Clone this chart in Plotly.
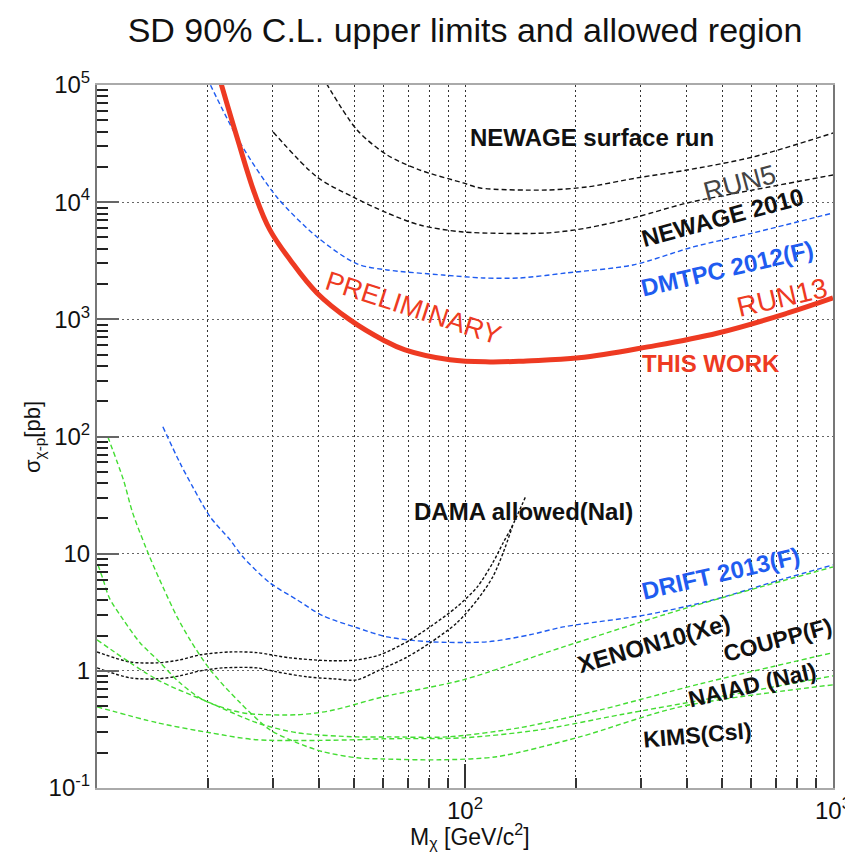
import plotly.graph_objects as go

# ---------------- data (mass in GeV/c^2, cross section in pb) ----------------
this_work_m = [21.6, 24.0, 26.9, 29.5, 33.5, 39.6, 48.7, 59.9, 68.7, 91.0, 117, 147, 204, 314, 487, 755, 1000]
this_work_s = [1.10e5, 36000, 11520, 5800, 3210, 1680, 989, 667, 548, 451, 433, 442, 469, 582, 765, 1134, 1523]

dmtpc_m = [19.9, 24.5, 30.8, 39.6, 50.9, 61.4, 87.1, 112, 141, 189, 286, 417, 606, 1000]
dmtpc_s = [1.15e5, 32000, 11070, 5050, 2970, 2640, 2390, 2255, 2255, 2490, 2910, 4150, 5460, 8090]

newage2010_m = [30.1, 39.6, 49.6, 61.4, 75.4, 98.8, 167, 215, 293, 401, 606, 1000]
newage2010_s = [39700, 16400, 11070, 8090, 6380, 5570, 5460, 6030, 7480, 9840, 12700, 17060]

surface_m = [40.9, 50.9, 61.4, 75.4, 98.8, 110, 167, 215, 293, 401, 606, 1000]
surface_s = [1.19e5, 41300, 25300, 18800, 14600, 13200, 12700, 13500, 16100, 18800, 24300, 38900]

drift_m = [15.1, 16.8, 18.2, 20.3, 23.0, 24.9, 29.5, 35.0, 41.1, 50.9, 61.4, 80.3, 115, 150, 185, 312, 472, 718, 1000]
drift_s = [121, 59.6, 37.2, 20.6, 13.1, 9.40, 5.64, 4.03, 2.95, 2.33, 1.95, 1.77, 1.77, 2.03, 2.37, 3.01, 4.03, 5.97, 8.02]

dama_up_m = [10, 12.3, 14.6, 16.8, 19.1, 23.0, 27.2, 33.5, 43.0, 50.9, 58.7, 69.6, 80.3, 95.1, 108, 119, 127, 134, 146]
dama_up_s = [1.45, 1.19, 1.17, 1.24, 1.37, 1.45, 1.43, 1.29, 1.22, 1.24, 1.37, 1.77, 2.37, 3.52, 5.21, 8.36, 12.4, 16.9, 30.5]
dama_lo_m = [10, 12.3, 14.6, 16.8, 19.1, 22.0, 27.2, 30.8, 37.2, 43.8, 50.9, 58.7, 69.6, 80.3, 95.1, 108, 119, 127, 135]
dama_lo_s = [1.06, 0.871, 0.855, 0.906, 1.0, 1.06, 1.06, 0.98, 0.889, 0.855, 0.838, 1.02, 1.31, 1.73, 2.57, 4.04, 6.34, 10.2, 17.6]

xenon_m = [10.06, 10.4, 10.8, 11.8, 13.1, 14.6, 16.8, 19.4, 23.0, 26.0, 35.0, 43.0, 59.9, 98.8, 185, 384, 1000]
xenon_s = [8.02, 5.97, 4.20, 2.72, 1.73, 1.24, 0.790, 0.566, 0.464, 0.430, 0.422, 0.456, 0.600, 0.838, 1.60, 3.31, 7.71]

coupp_m = [10, 14.6, 20.3, 27.2, 35.0, 50.9, 62.6, 89.3, 141, 233, 435, 1000]
coupp_s = [1.84, 0.838, 0.533, 0.360, 0.296, 0.273, 0.273, 0.273, 0.327, 0.464, 0.774, 1.43]

naiad_m = [10, 14.6, 20.3, 27.2, 50.9, 59.9, 98.8, 160, 264, 493, 1000]
naiad_s = [0.493, 0.360, 0.296, 0.258, 0.258, 0.263, 0.268, 0.314, 0.422, 0.600, 0.906]

kims_m = [10.7, 11.8, 12.5, 13.9, 15.1, 16.5, 17.9, 20.3, 24.5, 29.5, 35.0, 41.1, 50.9, 59.9, 85.5, 122, 205, 384, 1000]
kims_s = [99.3, 42.6, 22.3, 9.40, 5.21, 2.89, 1.84, 1.02, 0.533, 0.314, 0.243, 0.204, 0.181, 0.177, 0.174, 0.185, 0.273, 0.493, 0.760]

y_tickvals = [0.1, 1, 10, 100, 1000, 1e4, 1e5]
y_ticktext = ["10<sup>-1</sup>", "1", "10", "10<sup>2</sup>", "10<sup>3</sup>", "10<sup>4</sup>", "10<sup>5</sup>"]
x_tickvals = [100, 1000]
x_ticktext = ["10<sup>2</sup>", "10<sup>3</sup>"]
x_minor = [20, 30, 40, 50, 60, 70, 80, 90, 200, 300, 400, 500, 600, 700, 800, 900]
y_minor = [m * 10.0 ** e for e in range(-1, 5) for m in range(2, 10)]

# ---------------- figure ----------------
FONT = "Liberation Sans, Arial, Helvetica, sans-serif"
RED = "#ee3a22"
BLUE = "#1f5cf0"
GREEN = "#44dd33"
THIN = 1.4
DASH = "5px,3px"

fig = go.Figure()

def add(m, s, color, width, dash="solid", smoothing=0.8):
    fig.add_trace(go.Scatter(x=m, y=s, mode="lines",
                             line=dict(color=color, width=width, dash=dash, shape="spline", smoothing=smoothing),
                             hoverinfo="skip", showlegend=False))

add(surface_m, surface_s, "#111111", THIN, DASH)
add(newage2010_m, newage2010_s, "#111111", THIN, DASH)
add(dmtpc_m, dmtpc_s, BLUE, THIN, DASH)
add(drift_m, drift_s, BLUE, THIN, DASH)
add(dama_up_m, dama_up_s, "#111111", THIN, "3px,2px")
add(dama_lo_m, dama_lo_s, "#111111", THIN, "3px,2px")
add(xenon_m, xenon_s, GREEN, THIN, DASH)
add(coupp_m, coupp_s, GREEN, THIN, DASH)
add(naiad_m, naiad_s, GREEN, THIN, DASH)
add(kims_m, kims_s, GREEN, THIN, DASH)
add(this_work_m, this_work_s, RED, 5, smoothing=1.1)

def label(text, px, py, size, color="#111111", angle=0, bold=True):
    fig.add_annotation(text=("<b>%s</b>" % text) if bold else text,
                       x=(px - 97) / 736.0, y=(788 - py) / 703.0, xref="paper", yref="paper",
                       xanchor="center", yanchor="middle", showarrow=False, textangle=angle,
                       font=dict(family=FONT, size=size, color=color))

label("NEWAGE surface run", 592, 137, 24)
label("RUN5", 740, 183, 27, "#444444", -15, bold=False)
label("NEWAGE 2010", 722, 217, 24, "#111111", -15)
label("DMTPC 2012(F)", 727, 268, 24, BLUE, -13)
label("RUN13", 782, 297, 28, RED, -13, bold=False)
label("PRELIMINARY", 413, 308, 27, RED, 18, bold=False)
label("THIS WORK", 711, 363, 24, RED)
label("DAMA allowed(NaI)", 523, 512, 24)
label("DRIFT 2013(F)", 720, 573, 24, BLUE, -13)
label("XENON10(Xe)", 653, 643, 24, "#111111", -16)
label("COUPP(F)", 777, 640, 23, "#111111", -15)
label("NAIAD (NaI)", 752, 685, 23, "#111111", -13)
label("KIMS(CsI)", 697, 735, 23, "#111111", -5)

# axis titles as annotations (placed like the reference)
label("σ<sub>χ-p</sub>[pb]", 34, 437, 22, "#111111", -90, bold=False)
label("M<sub>χ</sub> [GeV/c<sup>2</sup>]", 470, 836, 23, "#111111", 0, bold=False)

fig.update_layout(
    width=845, height=861,
    margin=dict(l=97, r=12, t=85, b=73, autoexpand=False),
    paper_bgcolor="white", plot_bgcolor="white",
    font=dict(family=FONT, color="#111111"),
    title=dict(text="SD 90% C.L. upper limits and allowed region", xref="paper", x=0.5, xanchor="center",
               yref="container", y=0.965, yanchor="middle", font=dict(family=FONT, size=34, color="#111111")),
    hovermode=False,
)

fig.update_xaxes(
    type="log", range=[1, 3], automargin=False,
    tickmode="array", tickvals=x_tickvals, ticktext=x_ticktext,
    tickfont=dict(size=24, color="#111111"), ticklabeloverflow="allow",
    ticks="inside", ticklen=24, tickwidth=1.5, tickcolor="#333333",
    showgrid=True, gridcolor="#333333", griddash="2px,3px", gridwidth=1.3,
    minor=dict(tickmode="array", tickvals=x_minor, ticks="inside", ticklen=10, tickwidth=1.5,
               tickcolor="#333333", showgrid=True, gridcolor="#333333", griddash="2px,3px", gridwidth=1.3),
    showline=True, linecolor="#aaaaaa", linewidth=2, mirror=True,
    zeroline=False,
)

fig.update_yaxes(
    type="log", range=[-1, 5], automargin=False,
    tickmode="array", tickvals=y_tickvals, ticktext=y_ticktext,
    tickfont=dict(size=24, color="#111111"),
    ticks="inside", ticklen=22, tickwidth=1.5, tickcolor="#666666",
    showgrid=True, gridcolor="#666666", griddash="2px,3px", gridwidth=1.3,
    minor=dict(tickmode="array", tickvals=y_minor, ticks="inside", ticklen=11, tickwidth=2,
               tickcolor="#222222", showgrid=False),
    showline=True, linecolor="#777777", linewidth=2, mirror=True,
    zeroline=False,
)

fig.write_html("out.html")
